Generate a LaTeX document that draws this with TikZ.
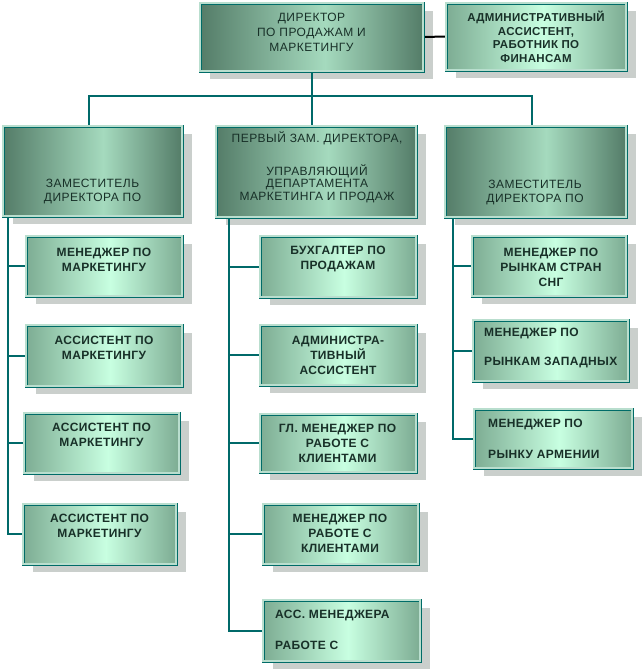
\documentclass[tikz,border=0pt]{standalone}
\usepackage{fontspec}
\setmainfont{Liberation Sans}
\newfontfamily\regsp[LetterSpace=4]{Liberation Sans}
\newfontfamily\boldsp[LetterSpace=3]{Liberation Sans Bold}
\pgfdeclarelayer{shadowlayer}
\pgfdeclarelayer{linelayer}
\pgfsetlayers{shadowlayer,linelayer,main}
\definecolor{dkE}{RGB}{84,124,104}
\definecolor{dkM}{RGB}{165,218,190}
\definecolor{ltE}{RGB}{125,172,147}
\definecolor{ltM}{RGB}{200,255,225}
\definecolor{bordc}{RGB}{0,108,104}
\definecolor{dblc}{RGB}{185,222,206}
\definecolor{linec}{RGB}{0,105,105}
\definecolor{txtc}{RGB}{24,48,40}
\definecolor{shadc}{RGB}{202,207,204}
\pgfdeclarehorizontalshading{dkshade}{100bp}{color(0bp)=(dkE);color(25bp)=(dkE);color(53bp)=(dkM);color(75bp)=(dkE);color(100bp)=(dkE)}
\pgfdeclarehorizontalshading{ltshade}{100bp}{color(0bp)=(ltE);color(25bp)=(ltE);color(52bp)=(ltM);color(75bp)=(ltE);color(100bp)=(ltE)}
\tikzset{
  boxbase/.style={rectangle, draw=bordc, double=dblc, double distance=1.2pt, line width=0.9pt, inner sep=0pt, outer sep=0pt},
  dkbox/.style={boxbase, shade, shading=dkshade},
  ltbox/.style={boxbase, shade, shading=ltshade},
  conn/.style={draw=linec, line width=2pt},
  toptxt/.style={text=txtc, align=center, inner sep=0pt, font=\regsp\fontsize{12}{15}\selectfont},
  deptxt/.style={text=txtc, align=center, inner sep=0pt, font=\regsp\fontsize{12}{14}\selectfont},
  midtxt/.style={text=txtc, align=center, inner sep=0pt, font=\regsp\fontsize{12}{12.5}\selectfont},
  admtxt/.style={text=txtc, align=center, inner sep=0pt, font=\boldsp\fontsize{11.5}{13.5}\selectfont},
  chtxt/.style={text=txtc, align=center, inner sep=0pt, font=\boldsp\fontsize{12}{15}\selectfont},
  chltxt/.style={text=txtc, align=left, anchor=west, inner sep=0pt, font=\boldsp\fontsize{12}{15}\selectfont}
}
\newcommand\shadowof[1]{\begin{pgfonlayer}{shadowlayer}\fill[shadc] ([xshift=10pt,yshift=-8pt]#1.north west) rectangle ([xshift=10pt,yshift=-8pt]#1.south east);\end{pgfonlayer}}
\begin{document}
\begin{tikzpicture}[x=1pt,y=-1pt]
\useasboundingbox (0,0) rectangle (642,672);
% level 0
\node[dkbox, minimum width=223pt, minimum height=68pt] (dir) at (311.5,37) {};
\node[ltbox, minimum width=180pt, minimum height=67pt] (adm) at (536,36.5) {};
% level 1
\node[dkbox, minimum width=179pt, minimum height=90pt] (dep1) at (92.5,171) {};
\node[dkbox, minimum width=200pt, minimum height=91pt] (dep2) at (316,171.5) {};
\node[dkbox, minimum width=181pt, minimum height=91pt] (dep3) at (535.5,171.5) {};
% left column
\node[ltbox, minimum width=156pt, minimum height=60pt] (l1) at (104,266) {};
\node[ltbox, minimum width=156pt, minimum height=61pt] (l2) at (104,355.5) {};
\node[ltbox, minimum width=155pt, minimum height=60pt] (l3) at (101.5,443) {};
\node[ltbox, minimum width=153pt, minimum height=60pt] (l4) at (99.5,534) {};
% middle column
\node[ltbox, minimum width=156pt, minimum height=61pt] (m1) at (338,266.5) {};
\node[ltbox, minimum width=156pt, minimum height=60pt] (m2) at (338,355) {};
\node[ltbox, minimum width=156pt, minimum height=58pt] (m3) at (338,443) {};
\node[ltbox, minimum width=155pt, minimum height=60pt] (m4) at (340.5,534) {};
\node[ltbox, minimum width=157pt, minimum height=61pt] (m5) at (341.5,630.5) {};
% right column
\node[ltbox, minimum width=154pt, minimum height=60pt] (r1) at (549,266) {};
\node[ltbox, minimum width=155pt, minimum height=61pt] (r2) at (550.5,350.5) {};
\node[ltbox, minimum width=158pt, minimum height=59pt] (r3) at (553,438.5) {};
% shadows
\foreach \b in {dir,adm,dep1,dep2,dep3,l1,l2,l3,l4,m1,m2,m3,m4,m5,r1,r2,r3}{\shadowof{\b}}
% texts
\node[toptxt] (dirT) at (311.5,32) {ДИРЕКТОР\\ПО ПРОДАЖАМ И\\МАРКЕТИНГУ};
\node[admtxt] (admT) at (536,37) {АДМИНИСТРАТИВНЫЙ\\АССИСТЕНТ,\\РАБОТНИК ПО\\ФИНАНСАМ};
\node[deptxt] (dep1T) at (92.5,191.5) {ЗАМЕСТИТЕЛЬ\\ДИРЕКТОРА ПО};
\node[midtxt] (dep2T) at (317,167) {ПЕРВЫЙ ЗАМ. ДИРЕКТОРА,\\[19pt]УПРАВЛЯЮЩИЙ\\ДЕПАРТАМЕНТА\\МАРКЕТИНГА И ПРОДАЖ};
\node[deptxt] (dep3T) at (535,192.5) {ЗАМЕСТИТЕЛЬ\\ДИРЕКТОРА ПО};
\node[chtxt] (l1T) at (104,259.5) {МЕНЕДЖЕР ПО\\МАРКЕТИНГУ};
\node[chtxt] (l2T) at (104,348) {АССИСТЕНТ ПО\\МАРКЕТИНГУ};
\node[chtxt] (l3T) at (101.5,435) {АССИСТЕНТ ПО\\МАРКЕТИНГУ};
\node[chtxt] (l4T) at (99.5,526) {АССИСТЕНТ ПО\\МАРКЕТИНГУ};
\node[chtxt] (m1T) at (338,259.5) {БУХГАЛТЕР ПО\\ПРОДАЖАМ};
\node[chtxt] (m2T) at (338,355) {АДМИНИСТРА-\\ТИВНЫЙ\\АССИСТЕНТ};
\node[chtxt] (m3T) at (337.5,443) {ГЛ. МЕНЕДЖЕР ПО\\РАБОТЕ С\\КЛИЕНТАМИ};
\node[chtxt] (m4T) at (340,533) {МЕНЕДЖЕР ПО\\РАБОТЕ С\\КЛИЕНТАМИ};
\node[chltxt] (m5T) at (275,629.5) {АСС. МЕНЕДЖЕРА\\[16pt]РАБОТЕ С};
\node[chtxt] (r1T) at (551,267) {МЕНЕДЖЕР ПО\\РЫНКАМ СТРАН\\СНГ};
\node[chltxt] (r2T) at (484,348) {МЕНЕДЖЕР ПО\\[14pt]РЫНКАМ ЗАПАДНЫХ};
\node[chltxt] (r3T) at (488,439) {МЕНЕДЖЕР ПО\\[16pt]РЫНКУ АРМЕНИИ};
% connectors
\begin{pgfonlayer}{linelayer}
\draw[conn, draw=black] (dir.east) -- (adm.west);
\draw[conn] (dir.south) -- (dir.south |- dep2.north);
\coordinate (busL) at (89,96);
\coordinate (busR) at (532,96);
\draw[conn] (dep1.north -| busL) -- (busL) -- (busR) -- (dep3.north -| busR);
\coordinate (trL) at (8,0);
\coordinate (trM) at (229,0);
\coordinate (trR) at (453,0);
\draw[conn] (dep1.south -| trL) -- (trL |- l4.west) -- (l4.west);
\foreach \n in {l1,l2,l3}{\draw[conn] (trL |- \n.west) -- (\n.west);}
\draw[conn] (dep2.south -| trM) -- (trM |- m5.west) -- (m5.west);
\foreach \n in {m1,m2,m3,m4}{\draw[conn] (trM |- \n.west) -- (\n.west);}
\draw[conn] (dep3.south -| trR) -- (trR |- r3.west) -- (r3.west);
\foreach \n in {r1,r2}{\draw[conn] (trR |- \n.west) -- (\n.west);}
\end{pgfonlayer}
\end{tikzpicture}
\end{document}
